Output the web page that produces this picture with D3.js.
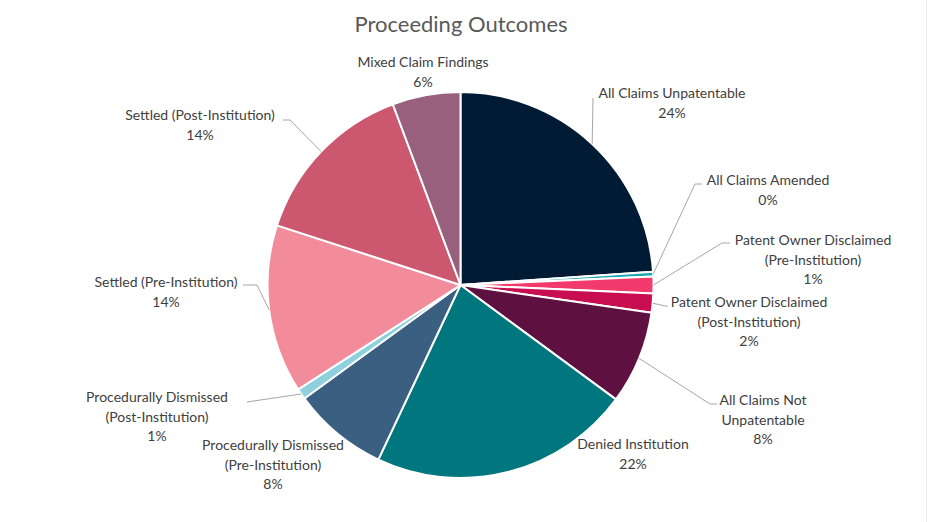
<!DOCTYPE html>
<html>
<head>
<meta charset="utf-8">
<script src="https://cdn.jsdelivr.net/npm/d3@7"></script>
<style>
  html, body { margin: 0; padding: 0; background: #fff; }
  svg { display: block; }
</style>
</head>
<body>
<svg id="chart" width="928" height="522"></svg>
<script>
// ---- data ----
const categories = [
  "All Claims Unpatentable",
  "All Claims Amended",
  "Patent Owner Disclaimed (Pre-Institution)",
  "Patent Owner Disclaimed (Post-Institution)",
  "All Claims Not Unpatentable",
  "Denied Institution",
  "Procedurally Dismissed (Pre-Institution)",
  "Procedurally Dismissed (Post-Institution)",
  "Settled (Pre-Institution)",
  "Settled (Post-Institution)",
  "Mixed Claim Findings"
];
const values = [23.9, 0.4, 1.4, 1.6, 7.8, 21.9, 8.0, 0.9, 14.1, 14.3, 5.7];
const percentLabels = ["24%", "0%", "1%", "2%", "8%", "22%", "8%", "1%", "14%", "14%", "6%"];
const labelLines = [
  ["All Claims Unpatentable"],
  ["All Claims Amended"],
  ["Patent Owner Disclaimed", "(Pre-Institution)"],
  ["Patent Owner Disclaimed", "(Post-Institution)"],
  ["All Claims Not", "Unpatentable"],
  ["Denied Institution"],
  ["Procedurally Dismissed", "(Pre-Institution)"],
  ["Procedurally Dismissed", "(Post-Institution)"],
  ["Settled (Pre-Institution)"],
  ["Settled (Post-Institution)"],
  ["Mixed Claim Findings"]
];
const colors = ["#021b34", "#1ba6b4", "#f23b6c", "#c90d51", "#5e1141",
                "#00777e", "#3b5f81", "#8ed0dc", "#f28c9b", "#cc5870", "#98607c"];

// ---- layout (label placement: text centre x, first-line centre y, leader elbow) ----
const labelLayout = [
  { x: 672, y: 93,  elbow: [593, 98],  end: [593, 98],  leader: true },
  { x: 768, y: 180, elbow: [695, 184], end: [702, 184], leader: true },
  { x: 813, y: 240, elbow: [722, 243], end: [730, 243], leader: true },
  { x: 749, y: 302, elbow: [665, 306], end: [668, 306], leader: true },
  { x: 763, y: 400, elbow: [710, 404], end: [717, 404], leader: true },
  { x: 633, y: 444, leader: false },
  { x: 273, y: 445, leader: false },
  { x: 157, y: 397, elbow: [247, 402], end: [247, 402], leader: true },
  { x: 166, y: 282, elbow: [257, 285], end: [243, 285], leader: true },
  { x: 200, y: 115, elbow: [290, 120], end: [283, 120], leader: true },
  { x: 423, y: 62,  leader: false }
];

const W = 928, H = 522;
const cx = 460.5, cy = 285, R = 193;
const lineH = 19.5;
const fontFamily = "Lato, 'Open Sans', 'Liberation Sans', sans-serif";

const svg = d3.select("#chart");

svg.append("rect").attr("x", 0).attr("y", 0).attr("width", W).attr("height", H).attr("fill", "#ffffff");
svg.append("line").attr("x1", 926.5).attr("x2", 926.5).attr("y1", 0).attr("y2", H)
  .attr("stroke", "#ececec").attr("stroke-width", 1);

svg.append("text")
  .attr("x", 461).attr("y", 32)
  .attr("text-anchor", "middle")
  .attr("font-family", fontFamily)
  .attr("font-size", 22)
  .attr("fill", "#595959")
  .text("Proceeding Outcomes");

const data = categories.map((c, i) => ({ name: c, value: values[i], i }));
const pie = d3.pie().sort(null).value(d => d.value).startAngle(0).endAngle(2 * Math.PI);
const arcs = pie(data);
const arc = d3.arc().innerRadius(0).outerRadius(R);
const color = d3.scaleOrdinal().domain(categories).range(colors);

const g = svg.append("g").attr("transform", `translate(${cx},${cy})`);
g.selectAll("path.slice")
  .data(arcs)
  .join("path")
  .attr("class", "slice")
  .attr("d", arc)
  .attr("fill", d => color(d.data.name))
  .attr("stroke", "#ffffff")
  .attr("stroke-width", 2)
  .attr("stroke-linejoin", "round");

// leader lines
arcs.forEach((a, i) => {
  const L = labelLayout[i];
  if (!L.leader) return;
  const mid = (a.startAngle + a.endAngle) / 2;
  const px = cx + R * Math.sin(mid);
  const py = cy - R * Math.cos(mid);
  const pts = [[px, py], L.elbow, L.end];
  svg.append("path")
    .attr("d", d3.line()(pts))
    .attr("fill", "none")
    .attr("stroke", "#a6a6a6")
    .attr("stroke-width", 1);
});

// labels
arcs.forEach((a, i) => {
  const L = labelLayout[i];
  const lines = labelLines[i].concat([percentLabels[i]]);
  const t = svg.append("text")
    .attr("text-anchor", "middle")
    .attr("font-family", fontFamily)
    .attr("font-size", 14)
    .attr("fill", "#404040");
  lines.forEach((ln, k) => {
    t.append("tspan")
      .attr("x", L.x)
      .attr("y", L.y + k * lineH + 5)
      .text(ln);
  });
});
</script>
</body>
</html>
